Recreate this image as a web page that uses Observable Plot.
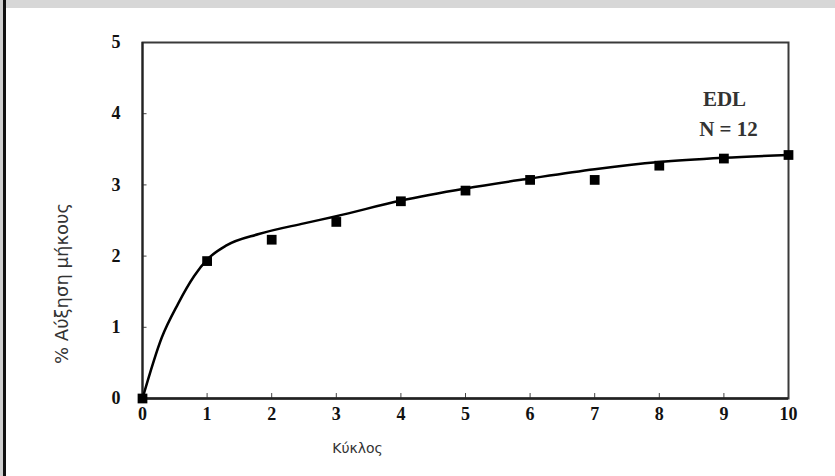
<!DOCTYPE html>
<html>
<head>
<meta charset="utf-8">
<script src="https://cdn.jsdelivr.net/npm/d3@7"></script>
<script src="https://cdn.jsdelivr.net/npm/@observablehq/plot@0.6"></script>
<style>
  html, body { margin: 0; padding: 0; background: #fff; }
  #wrap { position: relative; width: 835px; height: 476px; overflow: hidden; background: #fff; }
  #band { position: absolute; left: 6px; top: 0; width: 829px; height: 8px; background: #d7d7d7; }
  #edgeL { position: absolute; left: 0; top: 0; width: 3px; height: 476px; background: #cfcfcf; }
  #edgeB { position: absolute; left: 3px; top: 0; width: 3px; height: 476px; background: #111; }
  #chart { position: absolute; left: 0; top: 0; }
</style>
</head>
<body>
<div id="wrap">
  <div id="band"></div>
  <div id="edgeL"></div>
  <div id="edgeB"></div>
  <div id="chart"></div>
</div>
<script>
// Measured points (cycle, % length increase)
const cycles = [0, 1, 2, 3, 4, 5, 6, 7, 8, 9, 10];
const growth = [0, 1.93, 2.23, 2.48, 2.77, 2.92, 3.07, 3.07, 3.27, 3.37, 3.42];

// Fitted curve
const curveX = [0, 0.3, 0.55, 0.8, 1, 1.3, 1.8, 2.5, 3, 4, 5, 6, 7, 8, 9, 10];
const curveY = [0, 0.86, 1.33, 1.72, 1.95, 2.15, 2.31, 2.46, 2.56, 2.78, 2.95, 3.09, 3.22, 3.32, 3.38, 3.42];

const xTicks = [0, 1, 2, 3, 4, 5, 6, 7, 8, 9, 10];
const yTicks = [0, 1, 2, 3, 4, 5];

const xTitle = "Κύκλος";
const yTitle = "% Αύξηση μήκους";
const note1 = "EDL";
const note2 = "N = 12";

const points = cycles.map((c, i) => ({x: c, y: growth[i]}));
const curve = curveX.map((c, i) => ({x: c, y: curveY[i]}));

const serif = "'Liberation Serif', 'DejaVu Serif', serif";
const sans = "'DejaVu Sans', Verdana, sans-serif";

const chart = Plot.plot({
  width: 835,
  height: 476,
  marginLeft: 142,
  marginRight: 47,
  marginTop: 42,
  marginBottom: 78,
  style: {background: "transparent", overflow: "visible"},
  x: {domain: [0, 10]},
  y: {domain: [0, 5]},
  marks: [
    Plot.ruleX(xTicks, {x: d => d, y1: 0, y2: 0.07, stroke: "#444", strokeWidth: 1}),
    Plot.ruleY(yTicks, {y: d => d, x1: 0, x2: 0.07, stroke: "#444", strokeWidth: 1}),
    Plot.frame({stroke: "#3a3a3a", strokeWidth: 2}),
    Plot.ruleY([0], {stroke: "#222", strokeWidth: 2.5}),
    Plot.ruleX([0], {stroke: "#222", strokeWidth: 2}),
    Plot.axisX(xTicks, {tickSize: 0, tickPadding: 9, tickFormat: "d", fontSize: 18, fontWeight: "bold", fontFamily: serif, fill: "#111", label: null}),
    Plot.axisY(yTicks, {tickSize: 0, tickPadding: 22, tickFormat: "d", fontSize: 18, fontWeight: "bold", fontFamily: serif, fill: "#111", label: null}),
    Plot.line(curve, {x: "x", y: "y", curve: "monotone-x", stroke: "#000", strokeWidth: 2.5}),
    Plot.dot(points, {x: "x", y: "y", symbol: "square", r: 5.5, fill: "#000", stroke: null}),
    Plot.text([note1], {frameAnchor: "top-right", dx: -64, dy: 49, text: d => d, fontSize: 21, fontWeight: "bold", fontFamily: serif, fill: "#333", textAnchor: "middle"}),
    Plot.text([note2], {frameAnchor: "top-right", dx: -60, dy: 79, text: d => d, fontSize: 21, fontWeight: "bold", fontFamily: serif, fill: "#333", textAnchor: "middle"}),
    Plot.text([xTitle], {frameAnchor: "bottom", dx: -108, dy: 54, text: d => d, fontSize: 14, fontFamily: sans, fill: "#333", textAnchor: "middle"}),
    Plot.text([yTitle], {frameAnchor: "left", dx: -80, dy: 63, rotate: -90, text: d => d, fontSize: 18, fontFamily: sans, fill: "#333", textAnchor: "middle"})
  ]
});
document.getElementById("chart").appendChild(chart);
</script>
</body>
</html>
